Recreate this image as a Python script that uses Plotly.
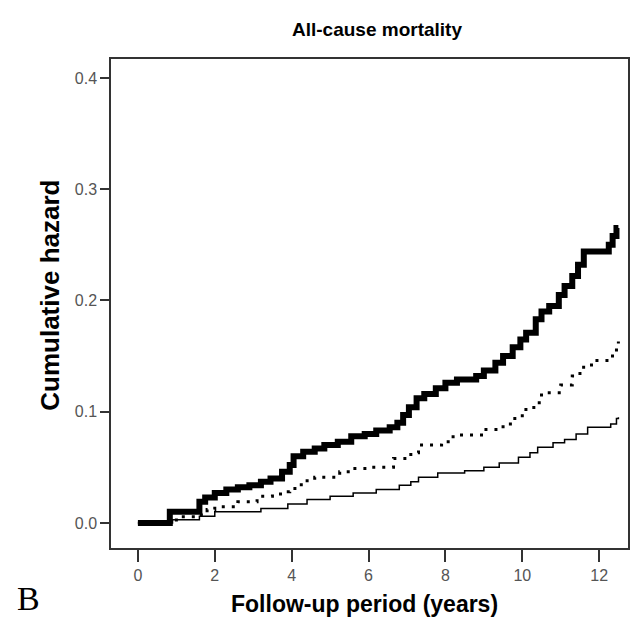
import plotly.graph_objects as go

# Cumulative hazard step curves (years of follow-up, cumulative hazard)
high_t = [0, 0.83, 1.6, 1.75, 2.0, 2.3, 2.6, 2.9, 3.2, 3.45, 3.75, 3.95, 4.05, 4.3, 4.6,
          4.85, 5.2, 5.55, 5.9, 6.2, 6.55, 6.75, 6.9, 7.05, 7.25, 7.45, 7.75, 8.0, 8.3,
          8.8, 9.0, 9.3, 9.5, 9.75, 9.95, 10.1, 10.35, 10.5, 10.7, 10.95, 11.1, 11.3,
          11.45, 11.6, 12.25, 12.35, 12.45, 12.5]
high_v = [0, 0.010, 0.019, 0.023, 0.027, 0.030, 0.032, 0.034, 0.037, 0.040, 0.046, 0.052,
          0.060, 0.064, 0.067, 0.070, 0.073, 0.078, 0.080, 0.083, 0.086, 0.090, 0.097,
          0.104, 0.112, 0.116, 0.121, 0.126, 0.129, 0.132, 0.137, 0.144, 0.150, 0.158,
          0.165, 0.171, 0.183, 0.190, 0.195, 0.205, 0.213, 0.222, 0.232, 0.244, 0.250,
          0.258, 0.265, 0.265]

mid_t = [0, 1.0, 1.65, 1.8, 2.0, 2.6, 3.1, 3.5, 3.76, 3.95, 4.25, 4.6, 5.25, 5.6, 6.05,
         6.65, 7.1, 7.3, 7.9, 8.2, 9.0, 9.5, 9.75, 10.0, 10.3, 10.5, 11.0, 11.3, 11.5,
         11.8, 12.3, 12.45, 12.5]
mid_v = [0, 0.0055, 0.009, 0.012, 0.0145, 0.019, 0.024, 0.026, 0.028, 0.031, 0.038, 0.041,
         0.046, 0.049, 0.050, 0.058, 0.063, 0.070, 0.073, 0.079, 0.084, 0.089, 0.094,
         0.102, 0.108, 0.117, 0.124, 0.132, 0.140, 0.146, 0.150, 0.158, 0.163]

low_t = [0, 0.9, 1.6, 2.0, 3.2, 3.9, 4.4, 5.0, 5.6, 6.2, 6.8, 7.1, 7.3, 7.8, 8.5, 9.0,
         9.4, 9.9, 10.2, 10.4, 10.8, 11.1, 11.4, 11.7, 12.3, 12.45, 12.5]
low_v = [0, 0.003, 0.006, 0.010, 0.013, 0.017, 0.021, 0.024, 0.027, 0.030, 0.034, 0.037,
         0.041, 0.045, 0.047, 0.050, 0.054, 0.059, 0.063, 0.068, 0.072, 0.075, 0.080,
         0.086, 0.089, 0.094, 0.095]

x_ticks = [0, 2, 4, 6, 8, 10, 12]
y_ticks = [0.0, 0.1, 0.2, 0.3, 0.4]
y_tick_text = ["0.0", "0.1", "0.2", "0.3", "0.4"]

fig = go.Figure()
fig.add_trace(go.Scatter(x=low_t, y=low_v, mode="lines", line_shape="hv",
                         line=dict(color="black", width=1.5)))
fig.add_trace(go.Scatter(x=mid_t, y=mid_v, mode="lines", line_shape="hv",
                         line=dict(color="black", width=3, dash="3px,7px")))
fig.add_trace(go.Scatter(x=high_t, y=high_v, mode="lines", line_shape="hv",
                         line=dict(color="black", width=6)))

axis_font = dict(family="Liberation Sans, Arial, sans-serif", size=16, color="#555")
fig.update_layout(
    width=632, height=618,
    margin=dict(l=111, r=2, t=59, b=70),
    paper_bgcolor="white", plot_bgcolor="white",
    showlegend=False,
    xaxis=dict(range=[-0.70, 12.75], tickvals=x_ticks, ticks="outside", ticklen=12,
               tickwidth=1.5, tickcolor="#333", showline=True, linecolor="#333",
               linewidth=1.5, mirror=True, showgrid=False, zeroline=False,
               tickfont=axis_font),
    yaxis=dict(range=[-0.0225, 0.417], tickvals=y_ticks, ticktext=y_tick_text,
               ticks="outside", ticklen=9, tickwidth=1.5, tickcolor="#333",
               showline=True, linecolor="#333", linewidth=1.5, mirror=True,
               showgrid=False, zeroline=False, tickfont=axis_font),
)

bold = "Liberation Sans, Arial, sans-serif"
fig.add_annotation(text="<b>All-cause mortality</b>", xref="paper", yref="paper",
                   x=(378 - 111) / 519, y=1 + 29 / 488, xanchor="center", yanchor="middle",
                   showarrow=False, font=dict(family=bold, size=19, color="black"))
fig.add_annotation(text="<b>Follow-up period (years)</b>", xref="paper", yref="paper",
                   x=(365 - 111) / 519, y=-(604 - 548) / 488, xanchor="center",
                   yanchor="middle", showarrow=False,
                   font=dict(family=bold, size=23, color="black"))
fig.add_annotation(text="<b>Cumulative hazard</b>", xref="paper", yref="paper",
                   x=-(111 - 50) / 519, y=(548 - 296) / 488, xanchor="center",
                   yanchor="middle", textangle=-90, showarrow=False,
                   font=dict(family=bold, size=26, color="black"))
fig.add_annotation(text="B", xref="paper", yref="paper",
                   x=-(111 - 28) / 519, y=-(598 - 548) / 488, xanchor="center",
                   yanchor="middle", showarrow=False,
                   font=dict(family="Liberation Serif, Times New Roman, serif", size=34,
                             color="black"))

fig.write_html("out.html")
